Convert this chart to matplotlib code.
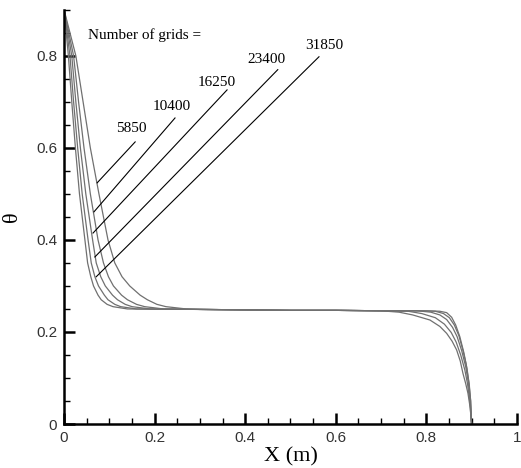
import numpy as np
import matplotlib
matplotlib.use("Agg")
import matplotlib.pyplot as plt
from matplotlib.ticker import MultipleLocator, FuncFormatter

# ── Data ───────────────────────────────────────────────────────────────
grids = ["5850", "10400", "16250", "23400", "31850"]

# left drop (theta levels shared by all curves)
theta_left = [0.9, 0.8, 0.7, 0.6, 0.5, 0.4, 0.35, 0.32, 0.3, 0.28, 0.27, 0.26, 0.255, 0.25]
x_left_5850 = [0, 0.026, 0.042, 0.058, 0.077, 0.097, 0.112, 0.128, 0.145, 0.168, 0.184, 0.205, 0.225, 0.27]
x_left_10400 = [0, 0.021, 0.032, 0.044, 0.058, 0.075, 0.087, 0.098, 0.109, 0.127, 0.140, 0.160, 0.178, 0.22]
x_left_16250 = [0, 0.017, 0.026, 0.036, 0.048, 0.063, 0.071, 0.081, 0.091, 0.107, 0.118, 0.135, 0.150, 0.19]
x_left_23400 = [0, 0.013, 0.021, 0.030, 0.040, 0.053, 0.060, 0.068, 0.076, 0.089, 0.097, 0.112, 0.125, 0.16]
x_left_31850 = [0, 0.0095, 0.017, 0.025, 0.034, 0.046, 0.052, 0.059, 0.065, 0.075, 0.082, 0.095, 0.108, 0.14]

# plateau
x_mid = [0.3, 0.4, 0.5, 0.6, 0.7]
theta_mid = [0.249, 0.248, 0.247, 0.247, 0.246]

# right drop
x_right_5850 = [0.74, 0.77, 0.808, 0.83, 0.845, 0.857, 0.867, 0.875, 0.881, 0.887, 0.892, 0.897, 0.9]
t_right_5850 = [0.243, 0.237, 0.226, 0.212, 0.197, 0.18, 0.161, 0.137, 0.110, 0.088, 0.067, 0.035, 0.0]
x_right_10400 = [0.76, 0.79, 0.82, 0.84, 0.855, 0.866, 0.876, 0.885, 0.891, 0.896, 0.9]
t_right_10400 = [0.245, 0.24, 0.231, 0.217, 0.199, 0.178, 0.15, 0.118, 0.088, 0.05, 0.0]
x_right_16250 = [0.78, 0.81, 0.83, 0.845, 0.858, 0.868, 0.878, 0.887, 0.893, 0.897, 0.9]
t_right_16250 = [0.246, 0.243, 0.237, 0.227, 0.21, 0.19, 0.16, 0.125, 0.09, 0.05, 0.0]
x_right_23400 = [0.79, 0.82, 0.838, 0.851, 0.862, 0.872, 0.881, 0.888, 0.894, 0.898, 0.9]
t_right_23400 = [0.246, 0.245, 0.24, 0.231, 0.215, 0.192, 0.16, 0.13, 0.09, 0.05, 0.0]
x_right_31850 = [0.80, 0.83, 0.845, 0.856, 0.865, 0.874, 0.883, 0.89, 0.895, 0.898, 0.9]
t_right_31850 = [0.246, 0.245, 0.242, 0.232, 0.215, 0.19, 0.155, 0.12, 0.085, 0.05, 0.0]

# label annotations: text centre, leader line top, leader line bottom
label_x = [0.148, 0.238, 0.338, 0.446, 0.574]
label_y = [0.643, 0.689, 0.743, 0.793, 0.822]
lead_top_x = [0.157, 0.245, 0.360, 0.472, 0.563]
lead_top_y = [0.613, 0.665, 0.726, 0.770, 0.798]
lead_bot_x = [0.073, 0.066, 0.064, 0.068, 0.071]
lead_bot_y = [0.524, 0.461, 0.415, 0.363, 0.320]


def main():
    left = [x_left_5850, x_left_10400, x_left_16250, x_left_23400, x_left_31850]
    right_x = [x_right_5850, x_right_10400, x_right_16250, x_right_23400, x_right_31850]
    right_t = [t_right_5850, t_right_10400, t_right_16250, t_right_23400, t_right_31850]

    fig = plt.figure(figsize=(5.21, 4.68), dpi=100)
    ax = fig.add_axes([0.123, 0.094, 0.869, 0.885])

    for xl, xr, tr in zip(left, right_x, right_t):
        xs = list(xl) + x_mid + list(xr)
        ts = list(theta_left) + theta_mid + list(tr)
        ax.plot(xs, ts, color="#707070", lw=0.9)

    for i, g in enumerate(grids):
        ax.plot([lead_bot_x[i], lead_top_x[i]], [lead_bot_y[i], lead_top_y[i]],
                color="black", lw=0.8)
        ax.text(label_x[i], label_y[i], g, ha="center", va="center",
                family="Liberation Serif", fontsize=11)
    ax.text(0.053, 0.846, "Number of grids =", ha="left", va="center",
            family="Liberation Serif", fontsize=11)

    ax.set_xlim(0, 1)
    ax.set_ylim(0, 0.9)
    ax.spines["top"].set_visible(False)
    ax.spines["right"].set_visible(False)
    for s in ("left", "bottom"):
        ax.spines[s].set_linewidth(1.8)

    ax.xaxis.set_major_locator(MultipleLocator(0.2))
    ax.xaxis.set_minor_locator(MultipleLocator(0.05))
    ax.yaxis.set_major_locator(MultipleLocator(0.2))
    ax.yaxis.set_minor_locator(MultipleLocator(0.05))
    fmt = FuncFormatter(lambda v, p: "%g" % round(v, 3))
    ax.xaxis.set_major_formatter(fmt)
    ax.yaxis.set_major_formatter(fmt)
    ax.tick_params(which="major", direction="in", length=8, width=1.8,
                   labelsize=11, colors="black", pad=5)
    ax.tick_params(which="minor", direction="in", length=4, width=1.0)
    for lab in ax.get_xticklabels() + ax.get_yticklabels():
        lab.set_family("Liberation Sans")
        lab.set_color("#333333")

    ax.set_xlabel("X (m)", family="Liberation Serif", fontsize=16, labelpad=2)
    ax.set_ylabel("θ", family="Liberation Serif", fontsize=16, rotation=90,
                  va="center")
    ax.yaxis.set_label_coords(-0.113, 0.5)

    fig.savefig("out.png", dpi=100)


if __name__ == "__main__":
    main()
